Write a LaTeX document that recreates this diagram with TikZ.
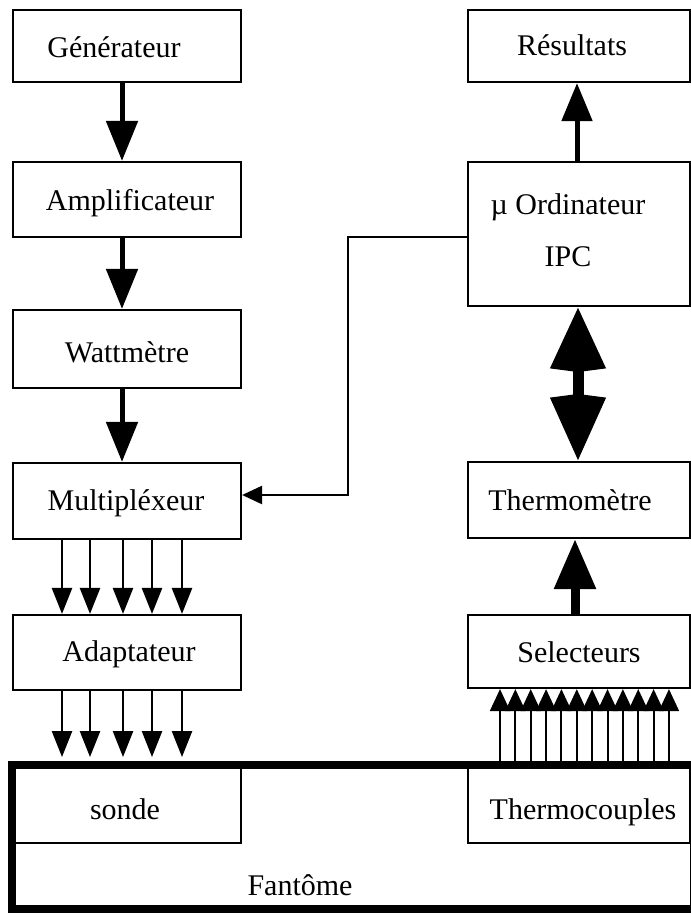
\documentclass[tikz,border=0pt]{standalone}
\usepackage{fontspec}
\setmainfont{Liberation Serif}
\usetikzlibrary{arrows.meta}
\begin{document}
\begin{tikzpicture}[x=1pt,y=-1pt,
  box/.style={draw, line width=2.2pt, rectangle, inner sep=0pt},
  lbl/.style={inner sep=0pt, anchor=base, font=\fontsize{30}{36}\selectfont},
  mainarrow/.style={line width=5pt, -{Triangle[width=31pt,length=40pt]}},
  resarrow/.style={line width=5pt, -{Triangle[width=30pt,length=38pt]}},
  thermarrow/.style={line width=9pt, -{Triangle[width=40pt,length=50pt]}},
  thinarrow/.style={line width=2.5pt, -{Triangle[width=18pt,length=20pt]}},
  busarrow/.style={line width=2.5pt, -{Triangle[width=20pt,length=26pt]}},
  tcarrow/.style={line width=2pt, -{Triangle[width=20pt,length=22pt]}},
  dblarrow/.style={line width=11pt, {Stealth[width=52pt,length=60pt,inset=-5pt]}-{Stealth[width=52pt,length=62pt,inset=-5pt]}}
]
\useasboundingbox (0,0) rectangle (691,919);
\clip (0,0) rectangle (691,919);

% left column boxes
\node[box, minimum width=228pt, minimum height=72pt] (gen) at (127,46) {};
\node[box, minimum width=228pt, minimum height=75pt] (amp) at (127,199.5) {};
\node[box, minimum width=228pt, minimum height=78pt] (wat) at (127,349) {};
\node[box, minimum width=228pt, minimum height=76pt] (mux) at (127,501) {};
\node[box, minimum width=228pt, minimum height=75pt] (adap) at (127,652.5) {};
\node[box, minimum width=228pt, minimum height=78pt] (sonde) at (127,804) {};

% right column boxes
\node[box, minimum width=222pt, minimum height=72pt] (res) at (579,46) {};
\node[box, minimum width=222pt, minimum height=144pt] (ord) at (579,234) {};
\node[box, minimum width=222pt, minimum height=76pt] (therm) at (579,500) {};
\node[box, minimum width=222pt, minimum height=73pt] (sel) at (579,651.5) {};
\node[box, minimum width=222pt, minimum height=78pt] (tc) at (579,804) {};

% phantom outer box
\node[draw, line width=8pt, rectangle, inner sep=0pt, minimum width=682pt, minimum height=144pt] (fant) at (353,837) {};

% labels
\node[lbl] (genl) at (114,57) {Générateur};
\node[lbl] (ampl) at (130,210) {Amplificateur};
\node[lbl] (watl) at (127,362) {Wattmètre};
\node[lbl] (muxl) at (126,510) {Multipléxeur};
\node[lbl] (adapl) at (129,661) {Adaptateur};
\node[lbl] (sondel) at (125,819) {sonde};
\node[lbl] (resl) at (572,55) {Résultats};
\node[lbl] (ordl1) at (568,214) {µ Ordinateur};
\node[lbl] (ordl2) at (568,266) {IPC};
\node[lbl] (therml) at (570,510) {Thermomètre};
\node[lbl] (sell) at (579,662) {Selecteurs};
\node[lbl] (tcl) at (583,819) {Thermocouples};
\node[lbl] (fantl) at (300,895) {Fantôme};

% main chain
\draw[mainarrow] ([xshift=-5pt]gen.south) -- ([xshift=-5pt]amp.north);
\draw[mainarrow] ([xshift=-5pt]amp.south) -- ([xshift=-5pt]wat.north);
\draw[mainarrow] ([xshift=-5pt]wat.south) -- ([xshift=-5pt]mux.north);

% bus arrows
\foreach \dx in {-65,-37,-4,25,55} {
  \draw[busarrow] ([xshift=\dx pt]mux.south) -- ([xshift=\dx pt]adap.north);
  \coordinate (b) at ([xshift=\dx pt, yshift=4pt]adap.south |- fant.north);
  \draw[busarrow] ([xshift=\dx pt]adap.south) -- ([xshift=\dx pt, yshift=4pt]adap.south |- fant.north);
}

% right column
\draw[resarrow] ([xshift=-2pt]ord.north) -- ([xshift=-2pt]res.south);
\draw[dblarrow] ([xshift=-1pt]ord.south) -- ([xshift=-1pt]therm.north);
\draw[thermarrow] ([xshift=-4pt]sel.north) -- ([xshift=-4pt]therm.south);

\foreach \i in {0,...,11} {
  \pgfmathsetmacro\dx{-79+15.36*\i}
  \coordinate (s\i) at ([xshift=\dx pt]sel.south);
  \draw[tcarrow] (s\i |- fant.north) -- (s\i);
}

% control line
\coordinate (bend) at (348,495);
\draw[thinarrow] ([yshift=-3pt]ord.west) -| (bend) -- (bend -| mux.east);
\end{tikzpicture}
\end{document}
